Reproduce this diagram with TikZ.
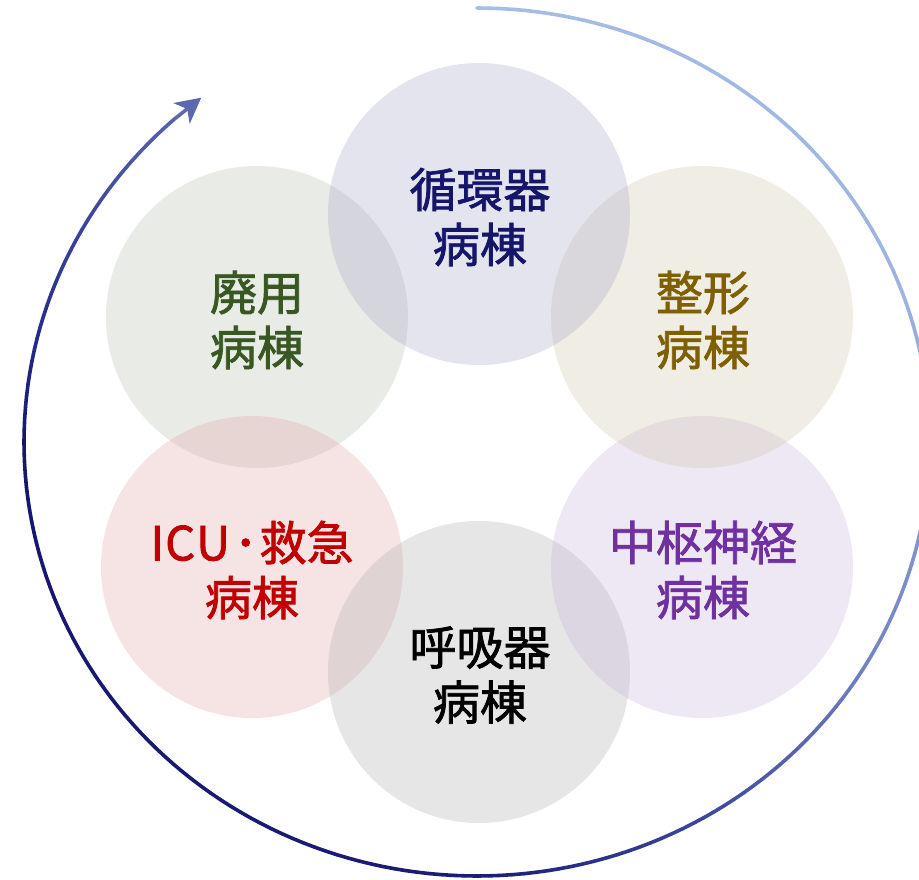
\documentclass[tikz,border=0pt]{standalone}
\usepackage{fontspec}
\newfontfamily\cjk[FakeBold=1.6]{Noto Sans CJK JP}
\usetikzlibrary{arrows.meta}
\definecolor{cTop}{HTML}{A5A5CA}
\definecolor{cRU}{HTML}{CDC3A8}
\definecolor{cRL}{HTML}{C6B2DA}
\definecolor{cBot}{HTML}{ACACAC}
\definecolor{cLL}{HTML}{E1A5A5}
\definecolor{cLU}{HTML}{B6BCAC}
\definecolor{tTop}{HTML}{15156A}
\definecolor{tRU}{HTML}{7F6000}
\definecolor{tRL}{HTML}{7030A0}
\definecolor{tBot}{HTML}{000000}
\definecolor{tLL}{HTML}{C00000}
\definecolor{tLU}{HTML}{385723}
\definecolor{g0}{HTML}{A7BDE7}
\definecolor{g1}{HTML}{9DB3E2}
\definecolor{g2}{HTML}{7384C4}
\definecolor{g3}{HTML}{3D4799}
\definecolor{g4}{HTML}{1C1C74}
\definecolor{g5}{HTML}{16166E}
\definecolor{g6}{HTML}{2D3590}
\definecolor{g7}{HTML}{5662AC}
\definecolor{g8}{HTML}{5D68B0}
\newcommand\gradseg[4]{%
  \pgfmathsetmacro\gn{int(abs(#1-#2)/1.5)}%
  \foreach \k in {1,...,\gn}{%
    \pgfmathsetmacro\ta{#1+(#2-#1)*(\k-1)/\gn}%
    \pgfmathsetmacro\tb{#1+(#2-#1)*\k/\gn}%
    \pgfmathsetmacro\gpct{100*(\k-0.5)/\gn}%
    \draw[arcline, color=#4!\gpct!#3] ({477+453*cos(\ta)},{442-434*sin(\ta)}) -- ({477+453*cos(\tb)},{442-434*sin(\tb)});
  }}
\begin{document}
\begin{tikzpicture}[x=1pt,y=-1pt,
  ward/.style={circle, minimum size=302pt, inner sep=0pt, fill opacity=0.3, text opacity=1},
  wardtext/.style={align=center, font=\cjk\fontsize{47}{55}\selectfont},
  arcline/.style={line width=3.6pt, line cap=round}]
\useasboundingbox (0,0) rectangle (919,880);
% circles
\node[ward, fill=cLU] (lu) at (257,317) {};
\node[ward, fill=cLL] (ll) at (252,567) {};
\node[ward, fill=cBot] (bo) at (479,672) {};
\node[ward, fill=cRL] (rl) at (702,567) {};
\node[ward, fill=cRU] (ru) at (702,317) {};
\node[ward, fill=cTop] (tp) at (479,214) {};
% labels
\node[wardtext, text=tTop] (ttp) at (480,217) {循環器\\病棟};
\node[wardtext, text=tRU] (tru) at (703,320) {整形\\病棟};
\node[wardtext, text=tLU] (tlu) at (257,320) {廃用\\病棟};
\node[wardtext, text=tLL] (tll) at (252,570) {I\kern1ptC\kern1ptU\kern4pt･\kern2pt救急\\病棟};
\node[wardtext, text=tRL] (trl) at (703,570) {中枢神経\\病棟};
\node[wardtext, text=tBot] (tbo) at (480,675) {呼吸器\\病棟};
% gradient arc
\gradseg{90}{20}{g0}{g1}
\gradseg{20}{-30}{g1}{g2}
\gradseg{-30}{-60}{g2}{g3}
\gradseg{-60}{-90}{g3}{g4}
\gradseg{-90}{-180}{g4}{g5}
\gradseg{-180}{-200}{g5}{g6}
\gradseg{-200}{-228}{g6}{g7}
\coordinate (astart) at ({477+453*cos(-228)},{442-434*sin(-228)});
\coordinate (aend) at ({477+453*cos(-232.5)},{442-434*sin(-232.5)});
\draw[line width=3.6pt, color=g8, -{Stealth[length=25pt,width=26pt,inset=7pt]}] (astart) -- (aend);
\end{tikzpicture}
\end{document}
